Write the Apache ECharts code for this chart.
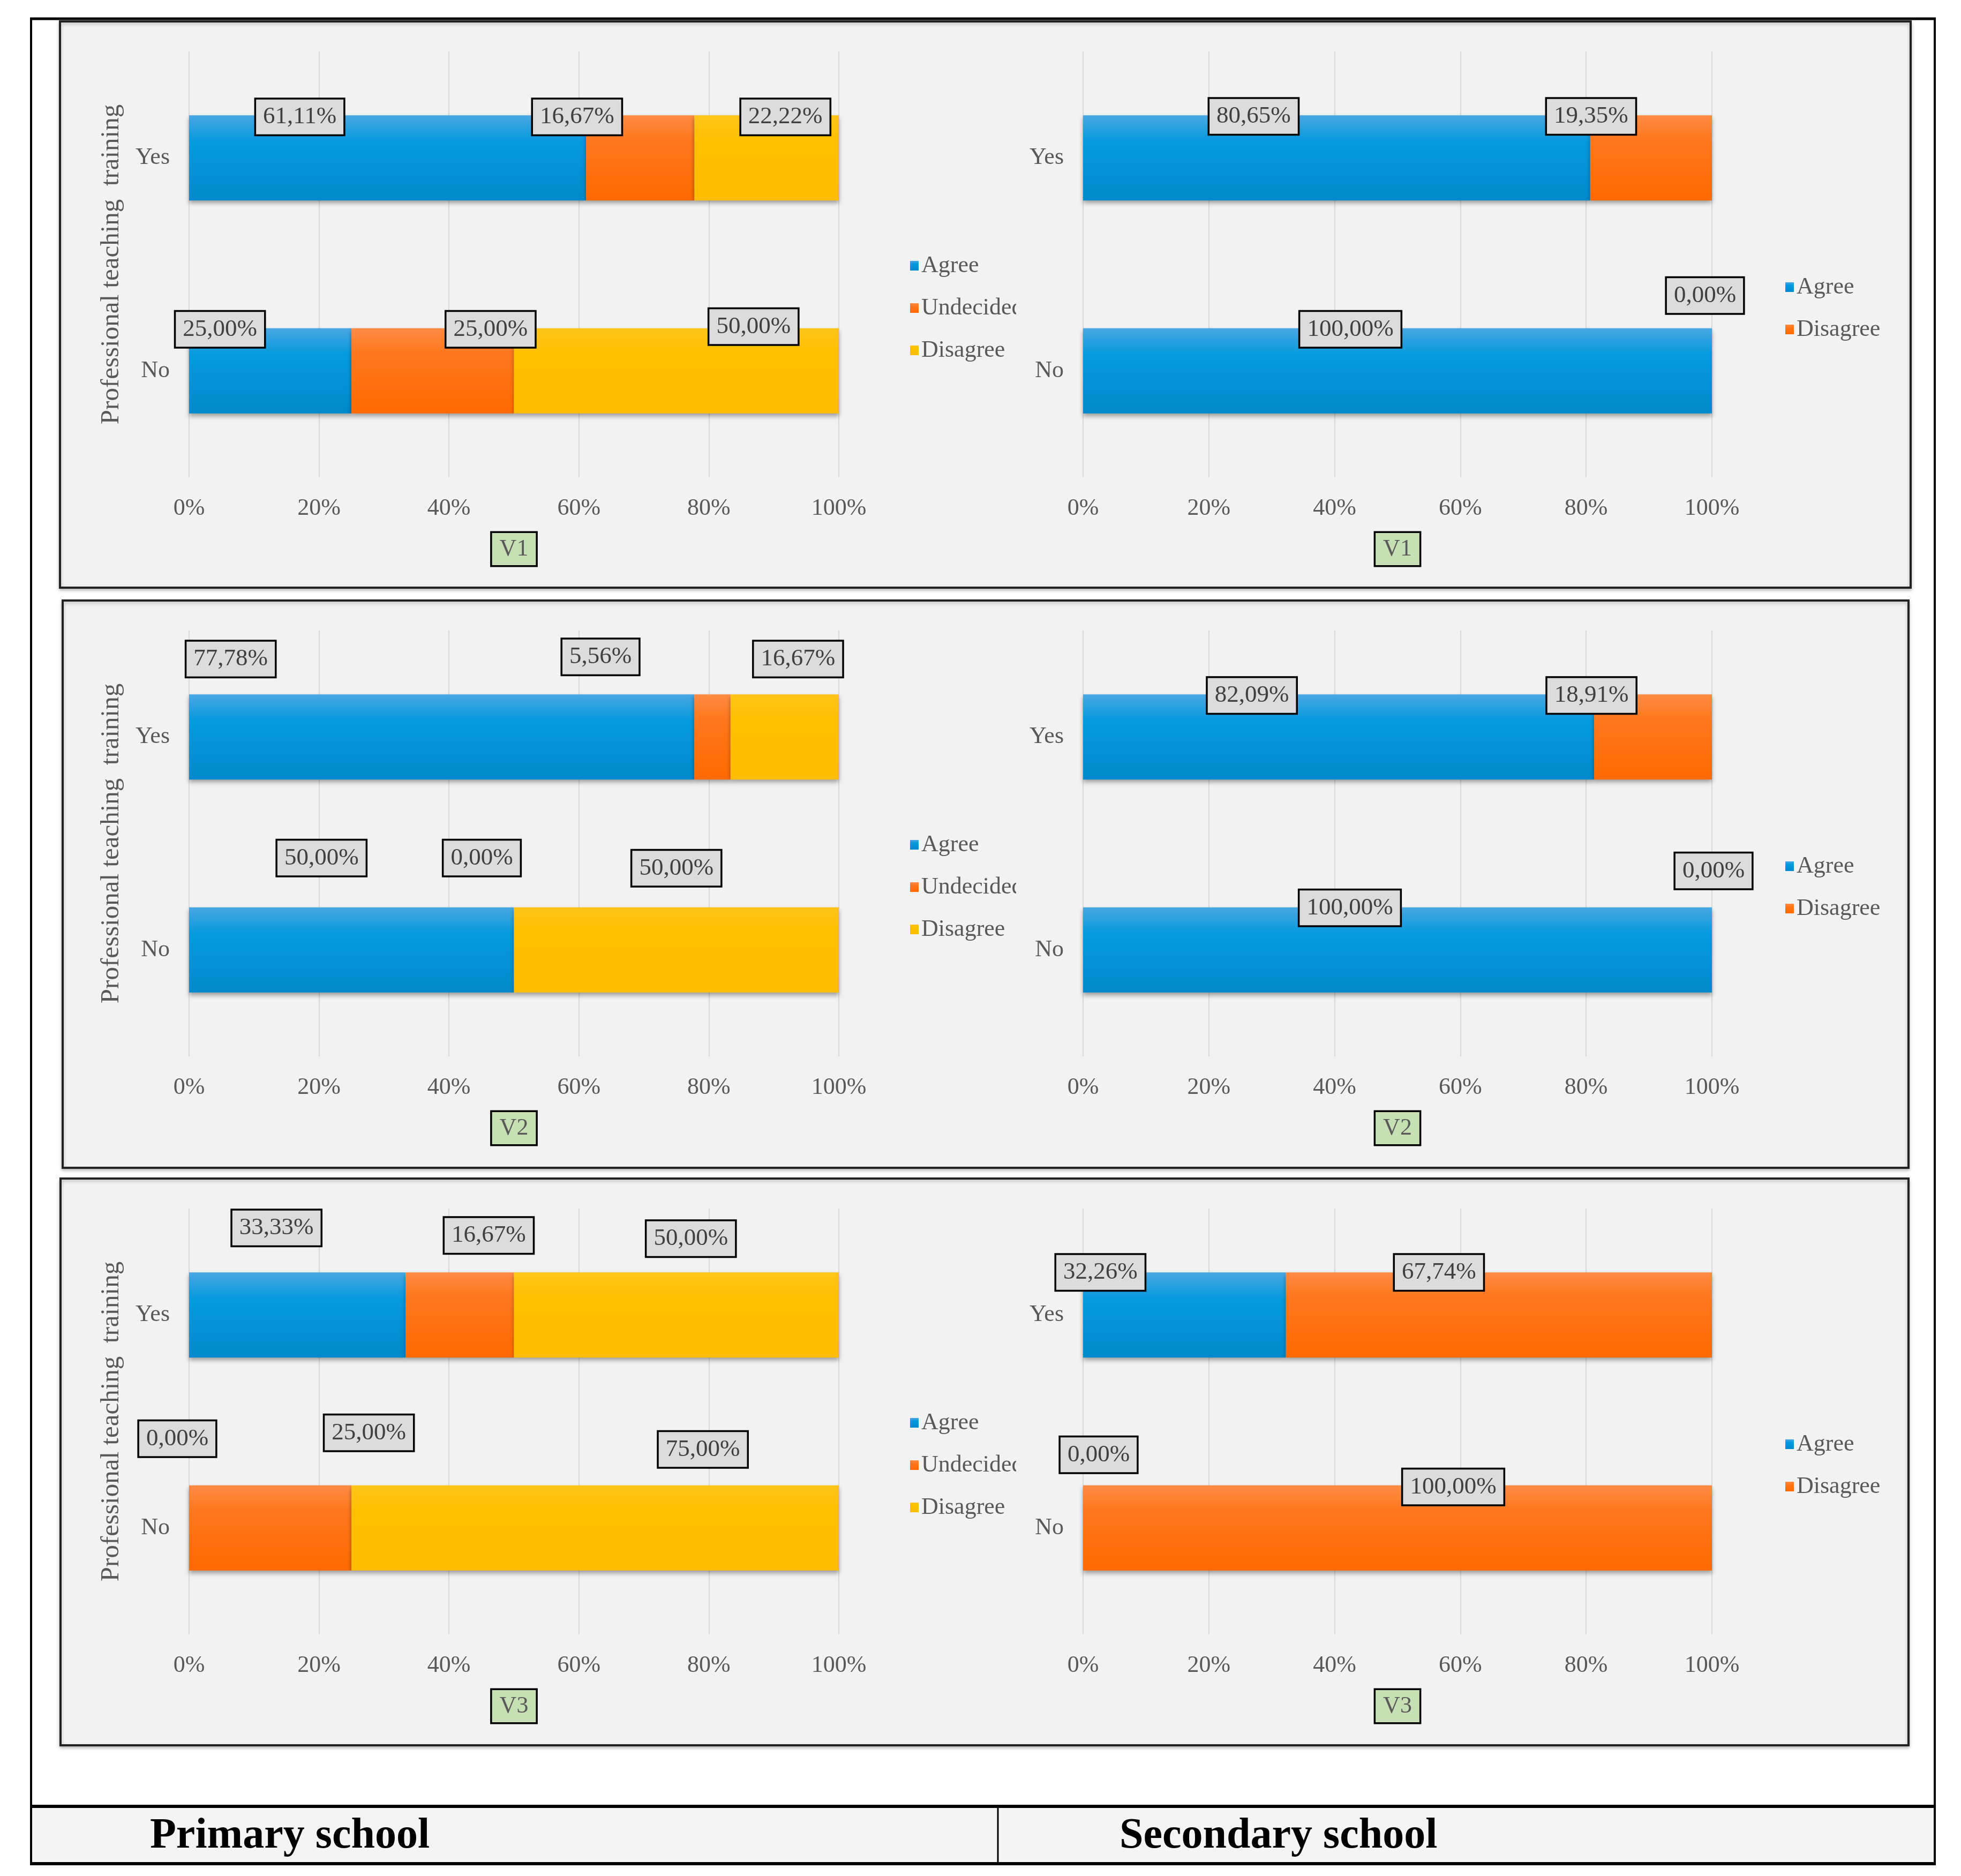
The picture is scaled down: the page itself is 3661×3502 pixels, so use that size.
<!DOCTYPE html>
<html>
<head>
<meta charset="utf-8">
<script src="https://cdn.jsdelivr.net/npm/echarts@6/dist/echarts.min.js"></script>
<style>
html,body{margin:0;padding:0;background:#fff;}
#page{position:relative;width:3661px;height:3502px;overflow:hidden;background:#fff;}
.c{position:absolute;}
</style>
</head>
<body>
<div id="page">
  <div id="bg" class="c" style="left:0;top:0;width:3661px;height:3502px;"></div>
  <div id="p1" class="c"></div><div id="s1" class="c"></div>
  <div id="p2" class="c"></div><div id="s2" class="c"></div>
  <div id="p3" class="c"></div><div id="s3" class="c"></div>
</div>
<script>
// ---------------- DATA ----------------
const categories = ['Yes', 'No'];
const primaryLegend = ['Agree', 'Undecided', 'Disagree'];
const secondaryLegend = ['Agree', 'Disagree'];
const xTickLabels = ['0%', '20%', '40%', '60%', '80%', '100%'];
const yAxisTitle = 'Professional teaching  training';
const panelTitles = ['V1', 'V2', 'V3'];
const footerLabels = ['Primary school', 'Secondary school'];

// Primary school (Agree, Undecided, Disagree) per category [Yes, No]
const primaryV1Agree = [61.11, 25.00];
const primaryV1Undecided = [16.67, 25.00];
const primaryV1Disagree = [22.22, 50.00];
const primaryV2Agree = [77.78, 50.00];
const primaryV2Undecided = [5.56, 0.00];
const primaryV2Disagree = [16.67, 50.00];
const primaryV3Agree = [33.33, 0.00];
const primaryV3Undecided = [16.67, 25.00];
const primaryV3Disagree = [50.00, 75.00];

// Secondary school (Agree, Disagree)
const secondaryV1Agree = [80.65, 100.00];
const secondaryV1Disagree = [19.35, 0.00];
const secondaryV2Agree = [82.09, 100.00];
const secondaryV2Disagree = [18.91, 0.00];
const secondaryV3Agree = [32.26, 0.00];
const secondaryV3Disagree = [67.74, 100.00];

// ---------------- LABEL NUDGES (styling, px) ----------------
const nudgeP1 = [[[-164,3],[-94,2]], [[-118,3],[108,2]], [[35,3],[144,-3]]];
const nudgeP2 = [[[-394,-66],[-56,-92]], [[-209,-70],[-60,-92]], [[25,-66],[0,-73]]];
const nudgeP3 = [[[-39,-83],[-22,-87]], [[54,-69],[184,-98]], [[27,-63],[201,-67]]];
const nudgeS1 = [[[-155,2],[-88,2]], [[-112,2],[-13,-61]]];
const nudgeS2 = [[[-162,2],[-89,1]], [[-115,2],[3,-68]]];
const nudgeS3 = [[[-157,0],[29,-57]], [[-112,0],[104,3]]];

// ---------------- STYLE ----------------
const FONT = '"Liberation Serif", "Times New Roman", serif';
const GREY = '#595959';
function grad(c0, c1, c2) {
  return new echarts.graphic.LinearGradient(0, 0, 0, 1, [
    {offset: 0, color: c0}, {offset: 0.3, color: c1}, {offset: 1, color: c2}
  ]);
}
const COLORS = {
  Agree: () => grad('#4aa7e2', '#079ade', '#0089cc'),
  Undecided: () => grad('#ff8b45', '#ff771c', '#ff6a00'),
  Disagree: () => grad('#ffc418', '#ffc000', '#ffbd00'),
  DisagreeSec: () => grad('#ff8b45', '#ff771c', '#ff6a00')
};
function fmt(v) { return v.toFixed(2).replace('.', ',') + '%'; }

// ---------------- BACKGROUND ----------------
const bg = echarts.init(document.getElementById('bg'), null, {renderer: 'canvas'});
const panels = [
  {x: 112, y: 40, w: 3455, h: 1057},
  {x: 117, y: 1121, w: 3446, h: 1059},
  {x: 113, y: 2200, w: 3450, h: 1058}
];
const bgEls = [];
panels.forEach(p => bgEls.push({type: 'rect', shape: {x: p.x, y: p.y, width: p.w, height: p.h},
  style: {fill: '#f2f2f2', stroke: '#222', lineWidth: 4, shadowColor: 'rgba(0,0,0,0.25)', shadowBlur: 6, shadowOffsetY: 3}}));
bgEls.push({type: 'rect', shape: {x: 58, y: 3372, width: 3554, height: 107}, style: {fill: '#f4f4f4'}});
const L = (x1, y1, x2, y2, w) => ({type: 'line', shape: {x1, y1, x2, y2}, style: {stroke: '#000', lineWidth: w}});
bgEls.push(L(56, 35, 3614, 35, 5));
bgEls.push(L(58, 35, 58, 3481, 4));
bgEls.push(L(3612, 35, 3612, 3481, 4));
bgEls.push(L(56, 3372, 3614, 3372, 6));
bgEls.push(L(56, 3479, 3614, 3479, 6));
bgEls.push(L(1863, 3372, 1863, 3479, 3));
bgEls.push({type: 'text', x: 280, y: 3428, style: {text: footerLabels[0], fill: '#000', font: 'bold 80px ' + FONT, verticalAlign: 'middle', align: 'left'}});
bgEls.push({type: 'text', x: 2090, y: 3428, style: {text: footerLabels[1], fill: '#000', font: 'bold 80px ' + FONT, verticalAlign: 'middle', align: 'left'}});
bg.setOption({animation: false, graphic: {elements: bgEls}});

// ---------------- CHARTS ----------------
const rowTops = [40, 1121, 2200];
function makeChart(id, row, isLeft, legendNames, seriesValues, nudges, title) {
  const el = document.getElementById(id);
  el.style.top = rowTops[row] + 'px';
  el.style.height = '1057px';
  el.style.left = (isLeft ? 112 : 1897) + 'px';
  el.style.width = (isLeft ? 1785 : 1670) + 'px';
  const chart = echarts.init(el, null, {renderer: 'canvas'});
  const sums = categories.map((c, i) => seriesValues.reduce((s, arr) => s + arr[i], 0));
  const series = legendNames.map((name, k) => {
    const colorKey = (!isLeft && name === 'Disagree') ? 'DisagreeSec' : name;
    return {
      name, type: 'bar', stack: 'total', barWidth: '40%',
      itemStyle: {color: COLORS[colorKey](), shadowColor: 'rgba(0,0,0,0.35)', shadowBlur: 8, shadowOffsetY: 5},
      label: {
        show: true, position: ['50%', 0], align: 'center', verticalAlign: 'middle',
        formatter: p => fmt(p.data.raw),
        fontFamily: FONT, fontSize: 45, color: '#404040',
        backgroundColor: '#dcdcdc', borderColor: '#000', borderWidth: 3.5, padding: [10, 13]
      },
      data: seriesValues[k].map((v, i) => ({
        value: v / sums[i] * 100, raw: v,
        label: {offset: nudges[k][i]}
      }))
    };
  });
  chart.setOption({
    animation: false,
    backgroundColor: 'transparent',
    grid: {left: isLeft ? 241 : 125, top: 56, width: isLeft ? 1213 : 1174, height: 795, containLabel: false},
    legend: {
      orient: 'vertical', left: isLeft ? 1582 : 1431, top: isLeft ? 426 : 466,
      icon: 'rect', itemWidth: 16, itemHeight: 18, itemGap: 29, selectedMode: false,
      textStyle: {fontFamily: FONT, fontSize: 44, color: GREY, lineHeight: 50},
      data: legendNames
    },
    xAxis: {
      type: 'value', min: 0, max: 100, interval: 20,
      axisLine: {show: false}, axisTick: {show: false},
      splitLine: {show: true, lineStyle: {color: '#d9d9d9', width: 2}},
      axisLabel: {fontFamily: FONT, fontSize: 44, color: GREY, margin: 36,
        formatter: v => xTickLabels[Math.round(v / 20)]},
      name: title, nameLocation: 'middle', nameGap: 104,
      nameTextStyle: {fontFamily: FONT, fontSize: 44, color: GREY, backgroundColor: '#c6e0b4',
        borderColor: '#000', borderWidth: 3.5, padding: [8, 14]}
    },
    yAxis: {
      type: 'category', data: categories, inverse: true,
      axisLine: {show: false}, axisTick: {show: false},
      axisLabel: {fontFamily: FONT, fontSize: 44, color: GREY, margin: 36},
      name: isLeft ? yAxisTitle : '', nameLocation: 'middle', nameRotate: 90, nameGap: 120,
      nameTextStyle: {fontFamily: FONT, fontSize: 49, color: GREY}
    },
    series
  });
}

makeChart('p1', 0, true, primaryLegend, [primaryV1Agree, primaryV1Undecided, primaryV1Disagree], nudgeP1, panelTitles[0]);
makeChart('p2', 1, true, primaryLegend, [primaryV2Agree, primaryV2Undecided, primaryV2Disagree], nudgeP2, panelTitles[1]);
makeChart('p3', 2, true, primaryLegend, [primaryV3Agree, primaryV3Undecided, primaryV3Disagree], nudgeP3, panelTitles[2]);
makeChart('s1', 0, false, secondaryLegend, [secondaryV1Agree, secondaryV1Disagree], nudgeS1, panelTitles[0]);
makeChart('s2', 1, false, secondaryLegend, [secondaryV2Agree, secondaryV2Disagree], nudgeS2, panelTitles[1]);
makeChart('s3', 2, false, secondaryLegend, [secondaryV3Agree, secondaryV3Disagree], nudgeS3, panelTitles[2]);
</script>
</body>
</html>
